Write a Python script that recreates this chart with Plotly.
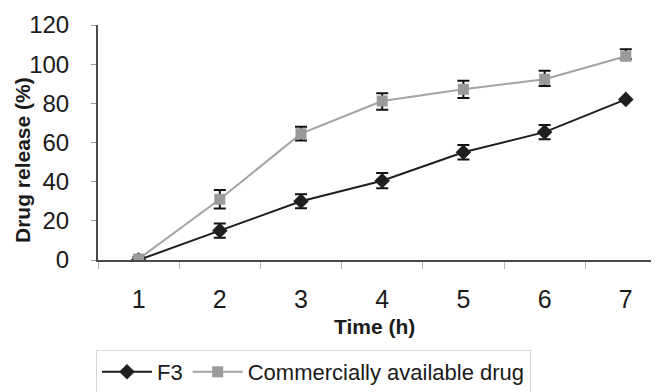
import plotly.graph_objects as go

time_h = ["1", "2", "3", "4", "5", "6", "7"]
f3_release = [0, 15, 30, 40.5, 55, 65.3, 82]
f3_err = [0, 3.6, 3.6, 3.9, 3.7, 3.6, 0]
comm_release = [0.5, 31, 64.5, 81.2, 87.2, 92.3, 104]
comm_err_plus = [1, 4.7, 3.5, 4.0, 4.3, 4.3, 3.6]
comm_err_minus = [1, 4.7, 3.5, 4.5, 4.5, 3.5, 1.5]
y_ticks = [0, 20, 40, 60, 80, 100, 120]

FONT = "Arial, Liberation Sans, sans-serif"
OFF = 8  # default page body margin
W, H = 659 - OFF, 392 - OFF
L = 98 - OFF
T = 25 - OFF
BOT = 260 - OFF
plot_w = W - L
plot_h = BOT - T


def px_x(x):
    return (x - OFF - L) / plot_w


def px_y(y):
    return (BOT - (y - OFF)) / plot_h


fig = go.Figure()
fig.add_trace(go.Scatter(
    x=time_h, y=f3_release, name="F3", mode="lines+markers",
    line=dict(color="#1f1f1f", width=2),
    marker=dict(symbol="diamond", size=12, color="#1f1f1f"),
    error_y=dict(type="data", array=f3_err, color="#111111", thickness=2, width=6),
))
fig.add_trace(go.Scatter(
    x=time_h, y=comm_release, name="Commercially available drug", mode="lines+markers",
    line=dict(color="#a3a3a3", width=2),
    marker=dict(symbol="square", size=11, color="#9a9a9a"),
    error_y=dict(type="data", array=comm_err_plus, arrayminus=comm_err_minus,
                 color="#111111", thickness=2, width=6),
))

cat_px = 81.2
fig.update_layout(
    width=W, height=H,
    margin=dict(l=L, r=0, t=T, b=H - BOT, autoexpand=False),
    paper_bgcolor="white", plot_bgcolor="white",
    font=dict(family=FONT, color="#1a1a1a"),
    showlegend=True,
    legend=dict(
        orientation="h", x=px_x(96), y=px_y(350),
        xanchor="left", yanchor="top",
        font=dict(size=22, family=FONT, color="#1a1a1a"),
        bordercolor="#d9d9d9", borderwidth=1, bgcolor="white",
        itemwidth=50,
    ),
    xaxis=dict(
        type="category", range=[-0.5, -0.5 + plot_w / cat_px],
        tickson="boundaries", ticks="outside", ticklen=7, tickcolor="#b5b5b5",
        showline=True, linecolor="#4a4a4a", linewidth=2,
        showgrid=False, zeroline=False,
        tickfont=dict(size=25, family=FONT, color="#1a1a1a"),
        ticklabelstandoff=16,
    ),
    yaxis=dict(
        range=[0, 120], tickvals=y_ticks,
        ticks="outside", ticklen=5, tickcolor="#9a9a9a",
        showline=True, linecolor="#4a4a4a", linewidth=2,
        showgrid=False, zeroline=False,
        tickfont=dict(size=24, family=FONT, color="#1a1a1a"),
        ticklabelstandoff=17,
    ),
    annotations=[
        dict(text="<b>Drug release (%)</b>", textangle=-90,
             xref="paper", yref="paper", x=px_x(22), y=px_y(160),
             xanchor="center", yanchor="middle", showarrow=False,
             font=dict(size=21, family=FONT, color="#1a1a1a")),
        dict(text="<b>Time (h)</b>",
             xref="paper", yref="paper", x=px_x(374), y=px_y(326),
             xanchor="center", yanchor="middle", showarrow=False,
             font=dict(size=21, family=FONT, color="#1a1a1a")),
    ],
)

fig.write_html("out.html")
